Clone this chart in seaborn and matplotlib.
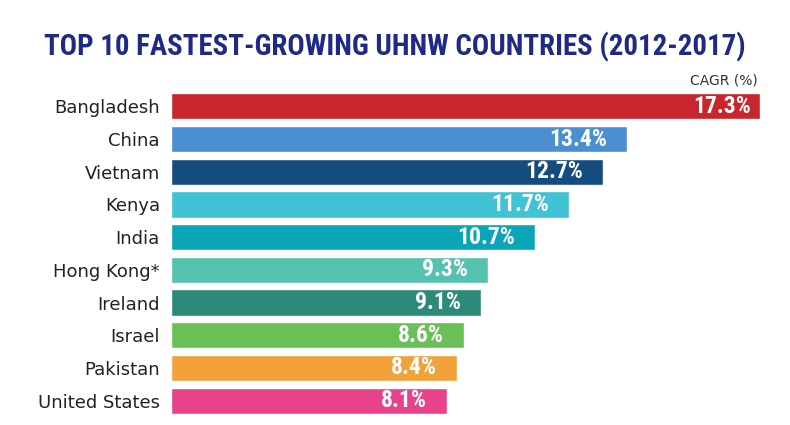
import matplotlib
matplotlib.use("Agg")
import matplotlib.pyplot as plt
import seaborn as sns

# data
countries = ["Bangladesh", "China", "Vietnam", "Kenya", "India",
             "Hong Kong*", "Ireland", "Israel", "Pakistan", "United States"]
cagr = [17.3, 13.4, 12.7, 11.7, 10.7, 9.3, 9.1, 8.6, 8.4, 8.1]
bar_colors = ["#c9252c", "#4a8fd2", "#144c80", "#3fc3d5", "#0aa5b6",
              "#55c1ae", "#2b8a78", "#6abf58", "#f1a23b", "#e8428d"]

sns.set_style("white")
plt.rcParams["font.family"] = ["DejaVu Sans"]
cond = ["Roboto Condensed", "DejaVu Sans"]

fig = plt.figure(figsize=(7.9, 4.25), dpi=100)
ax = fig.add_axes([171 / 790, 1 - 417 / 425, (760 - 171) / 790, (417 - 90) / 425])

sns.barplot(x=cagr, y=countries, hue=countries, palette=bar_colors,
            orient="h", width=0.8, legend=False, ax=ax, saturation=1)

ax.set_xlim(0, 17.3)
ax.set_ylim(9.5, -0.5)
ax.set_xlabel("")
ax.set_ylabel("")
ax.set_xticks([])
sns.despine(ax=ax, left=True, bottom=True)
ax.tick_params(axis="y", length=0, pad=8, labelsize=13, labelcolor="#222222")

# value labels inside the bars (longest bar has less room at its end)
for i, v in enumerate(cagr):
    pad = 9 if v == max(cagr) else 20
    ax.annotate(f"{v}%", xy=(v, i), xytext=(-pad, 0), textcoords="offset pixels",
                ha="right", va="center", color="white", fontsize=17,
                fontweight="bold", family=cond, fontstretch="condensed")

fig.text(0.5, 1 - 47 / 425, "TOP 10 FASTEST-GROWING UHNW COUNTRIES (2012-2017)",
         ha="center", va="center", fontsize=20.8, fontweight="bold",
         family=cond, fontstretch="condensed", color="#1f2a87")
fig.text(758 / 790, 1 - 81 / 425, "CAGR (%)", ha="right", va="center",
         fontsize=10, color="#333333")

fig.savefig("out.png", dpi=100)
